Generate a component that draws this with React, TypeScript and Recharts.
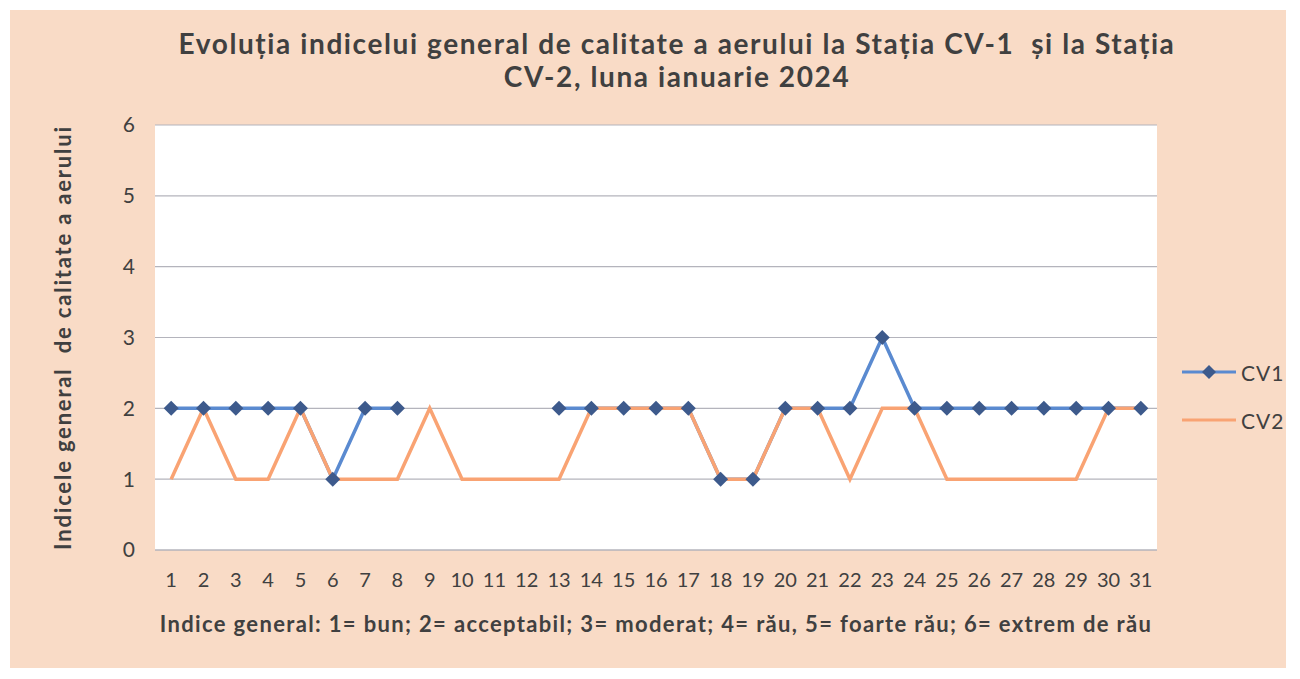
import { LineChart, Line, XAxis, YAxis, CartesianGrid, Label } from "recharts";

const DAYS = ["1","2","3","4","5","6","7","8","9","10","11","12","13","14","15","16","17","18","19","20","21","22","23","24","25","26","27","28","29","30","31"];
const CV1 = [2, 2, 2, 2, 2, 1, 2, 2, null, null, null, null, 2, 2, 2, 2, 2, 1, 1, 2, 2, 2, 3, 2, 2, 2, 2, 2, 2, 2, 2];
const CV2 = [1, 2, 1, 1, 2, 1, 1, 1, 2, 1, 1, 1, 1, 2, 2, 2, 2, 1, 1, 2, 2, 1, 2, 2, 1, 1, 1, 1, 1, 2, 2];
const Y_TICKS = [0, 1, 2, 3, 4, 5, 6];

const TITLE_1 = "Evoluția indicelui general de calitate a aerului la Stația CV-1  și la Stația";
const TITLE_2 = "CV-2, luna ianuarie 2024";
const Y_LABEL = "Indicele general  de calitate a aerului";
const X_LABEL = "Indice general: 1= bun; 2= acceptabil; 3= moderat; 4= rău, 5= foarte rău; 6= extrem de rău";

const data = DAYS.map((d, i) => ({ day: d, CV1: CV1[i], CV2: CV2[i] }));

const FONT = "Lato, 'Open Sans', sans-serif";
const TEXT = "#404040";
const BLUE = "#5a8ad0";
const NAVY = "#3d5a8c";
const ORANGE = "#f9a373";

function Diamond(props: any) {
  const { cx, cy, value } = props;
  if (value == null || cx == null || cy == null) return null;
  const r = 7.5;
  return <path d={`M${cx},${cy - r}L${cx + r},${cy}L${cx},${cy + r}L${cx - r},${cy}Z`} fill={NAVY} />;
}

function LegendBox() {
  return (
    <div style={{ position: "absolute", left: 1180, top: 357, fontFamily: FONT, fontSize: 21, color: TEXT }}>
      <div style={{ display: "flex", alignItems: "center", height: 30 }}>
        <svg width={58} height={20}>
          <line x1={2} y1={10} x2={56} y2={10} stroke={BLUE} strokeWidth={3} />
          <path d="M29,3L36,10L29,17L22,10Z" fill={NAVY} />
        </svg>
        <span style={{ marginLeft: 3, letterSpacing: 1 }}>CV1</span>
      </div>
      <div style={{ display: "flex", alignItems: "center", height: 30, marginTop: 18 }}>
        <svg width={58} height={20}>
          <line x1={2} y1={10} x2={56} y2={10} stroke={ORANGE} strokeWidth={3} />
        </svg>
        <span style={{ marginLeft: 3, letterSpacing: 1 }}>CV2</span>
      </div>
    </div>
  );
}

export default function App() {
  return (
    <div style={{ position: "fixed", left: 0, top: 0, width: 1300, height: 679, background: "#ffffff" }}>
      <div style={{ position: "absolute", left: 10, top: 10, width: 1276, height: 658, background: "#f9dbc6" }} />
      <div style={{ position: "absolute", left: 0, top: 27, width: 1354, textAlign: "center", fontFamily: FONT, fontWeight: 700, fontSize: 28, letterSpacing: 1.6, color: TEXT, lineHeight: "33px", whiteSpace: "pre" }}>
        <div>{TITLE_1}</div>
        <div>{TITLE_2}</div>
      </div>
      <div style={{ position: "absolute", left: 0, top: 0 }}>
        <LineChart width={1300} height={679} data={data} margin={{ top: 125, right: 143, bottom: 69, left: 95 }}>
          <CartesianGrid vertical={false} horizontal fill="#ffffff" stroke="#b4b4bc" strokeWidth={1.2} />
          <XAxis dataKey="day" scale="band" height={60} tickLine={false} tickSize={0} tickMargin={23}
            axisLine={{ stroke: "#b4b4bc" }} interval={0}
            tick={{ fontFamily: FONT, fontSize: 20, fill: TEXT }}>
            <Label content={({ viewBox }: any) => (
              <text x={viewBox.x + viewBox.width / 2} y={viewBox.y + 82} textAnchor="middle"
                fontFamily={FONT} fontSize={22} fontWeight={700} letterSpacing={1.35} fill={TEXT}>{X_LABEL}</text>
            )} />
          </XAxis>
          <YAxis domain={[0, 6]} ticks={Y_TICKS} width={60} axisLine={false} tickLine={false} tickSize={0} tickMargin={20}
            tick={{ fontFamily: FONT, fontSize: 21, fill: TEXT }}>
            <Label content={({ viewBox }: any) => {
              const cx = 62;
              const cy = viewBox.y + viewBox.height / 2;
              return (
                <text x={cx} y={cy} transform={`rotate(-90, ${cx}, ${cy})`} textAnchor="middle" dominantBaseline="central"
                  fontFamily={FONT} fontSize={22} fontWeight={700} letterSpacing={1.8} fill={TEXT}
                  style={{ whiteSpace: "pre" }}>{Y_LABEL}</text>
              );
            }} />
          </YAxis>
          <Line type="linear" dataKey="CV1" stroke={BLUE} strokeWidth={3.5} dot={<Diamond />} activeDot={false} isAnimationActive={false} />
          <Line type="linear" dataKey="CV2" stroke={ORANGE} strokeWidth={3.5} dot={false} activeDot={false} isAnimationActive={false} />
        </LineChart>
      </div>
      <LegendBox />
    </div>
  );
}
